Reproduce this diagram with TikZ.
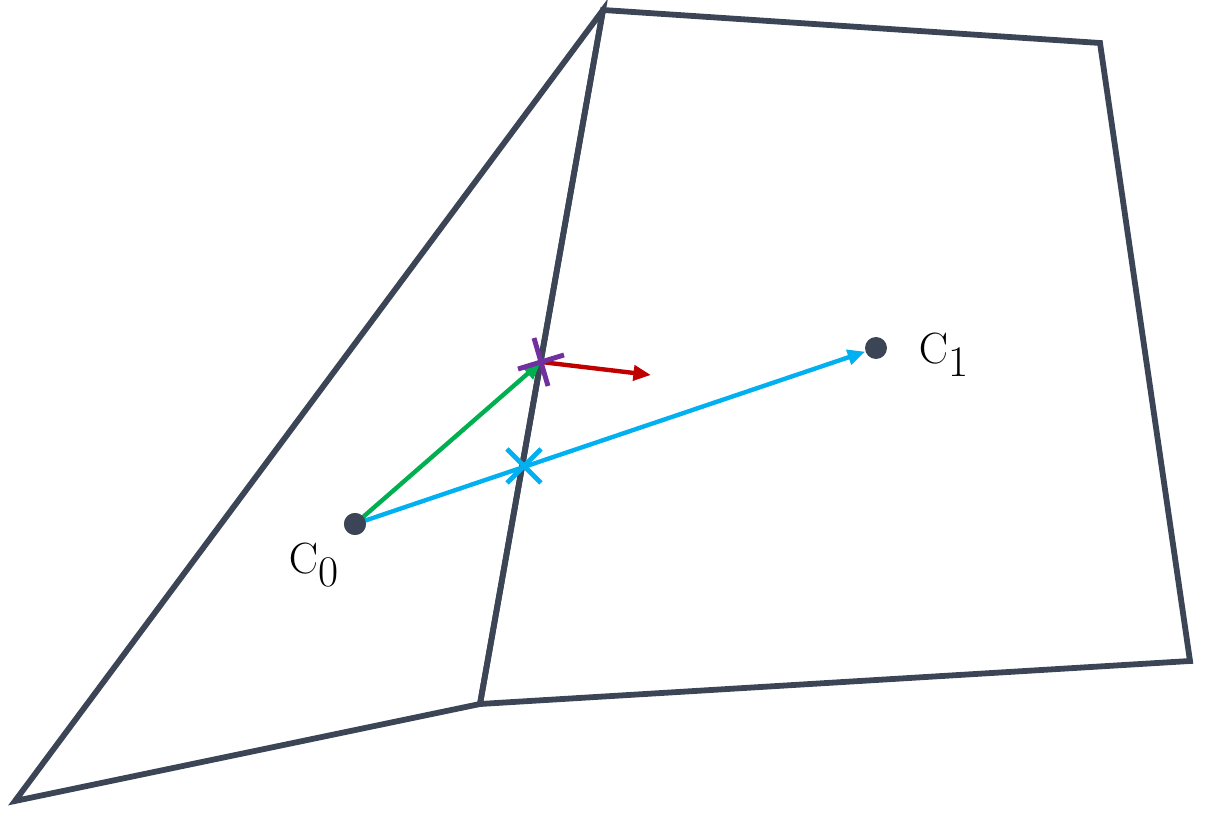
\documentclass[tikz,border=0pt]{standalone}
\usetikzlibrary{arrows.meta}
\definecolor{slate}{HTML}{3B4556}
\definecolor{cblue}{HTML}{00B0F0}
\definecolor{cgreen}{HTML}{00B050}
\definecolor{cred}{HTML}{C00000}
\definecolor{cpurple}{HTML}{7030A0}
\begin{document}
\begin{tikzpicture}[x=0.02cm,y=-0.02cm,
  edge/.style={draw=slate,line width=3.3pt,line join=miter},
  dot/.style={circle,fill=slate,inner sep=0pt,minimum size=0.44cm},
  vec/.style={line width=2.5pt,-{Triangle[length=10pt,width=8.5pt]}},
  lbl/.style={font=\fontsize{33}{38}\selectfont}]
\useasboundingbox (0,0) rectangle (1205,820);
% cells
\coordinate (A) at (15,801);
\coordinate (B) at (603,10);
\coordinate (Cq) at (1100,43);
\coordinate (D) at (1190,661);
\coordinate (E) at (480,704);
\draw[edge] (A) -- (B) -- (E) -- cycle;
\draw[edge] (B) -- (Cq) -- (D) -- (E) -- cycle;
% centroids
\node[dot] (C0) at (355,524) {};
\node[dot] (C1) at (876,348) {};
\node[lbl] (L0) at (314,565) {$\mathrm{C}_0$};
\node[lbl] (L1) at (944,355) {$\mathrm{C}_1$};
% points
\coordinate (P) at (541,362);
\coordinate (R) at (651,375);
\coordinate (X) at (524,466);
% vectors
\draw[vec,cblue] (C0.center) -- (C1);
\draw[vec,cgreen] (C0.center) -- (P);
\draw[vec,cred] (P) -- (R);
\node[dot] at (C0) {};
% crosses
\draw[cblue,line width=2.8pt] ([shift={(-17,-17)}]X) -- ([shift={(17,17)}]X)
  ([shift={(-17,17)}]X) -- ([shift={(17,-17)}]X);
\draw[cpurple,line width=2.8pt] ([shift={(-7,-24)}]P) -- ([shift={(7,24)}]P)
  ([shift={(-23,7)}]P) -- ([shift={(23,-7)}]P);
\end{tikzpicture}
\end{document}
